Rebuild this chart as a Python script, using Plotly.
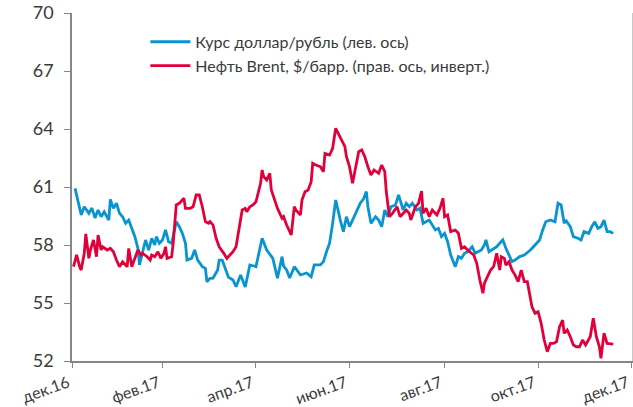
import pandas as pd
import plotly.graph_objects as go

start_date = "2016-12-31"

# USD/RUB (left axis): days since start, values
usd_days = [2, 4, 6, 8, 11, 13, 15, 17, 19, 21, 24, 25, 27, 29, 31, 33, 35, 37, 39, 41,
            43, 44, 48, 50, 52, 54, 55, 57, 59, 61, 63, 65, 68, 70, 72, 74, 75, 78, 80, 82,
            85, 87, 88, 90, 92, 95, 96, 98, 102, 105, 107, 110, 113, 116, 120, 124, 127, 131, 134, 137,
            138, 140, 142, 145, 149, 153, 156, 158, 162, 164, 166, 168, 170, 172, 175, 177, 179, 181, 183, 186,
            188, 190, 192, 193, 195, 198, 200, 202, 204, 206, 208, 211, 213, 216, 218, 220, 222, 225, 227, 229,
            233, 237, 239, 241, 243, 245, 247, 250, 252, 254, 256, 258, 261, 263, 265, 267, 269, 270, 272, 275,
            277, 279, 281, 283, 285, 287, 289, 292, 295, 299, 302, 305, 307, 309, 312, 315, 317, 319, 321, 322,
            325, 327, 330, 332, 334, 337, 339, 341, 343, 345, 347, 349, 351, 353]
usd_rub = [60.93, 60.16, 59.55, 59.98, 59.64, 59.91, 59.40, 59.81, 59.46, 59.72, 59.29, 60.36, 59.90, 60.16, 59.64, 59.46, 59.12, 59.29, 58.86, 58.43,
           57.83, 56.97, 58.26, 57.74, 58.35, 58.00, 58.43, 58.09, 58.26, 58.78, 58.17, 58.09, 59.20, 58.95, 58.60, 58.09, 57.22, 57.31, 57.74, 57.22,
           56.88, 56.79, 56.10, 56.28, 56.29, 56.71, 57.22, 57.22, 56.34, 56.19, 55.84, 56.45, 55.83, 56.97, 56.88, 58.35, 57.74, 57.31, 56.28, 57.40,
           56.91, 56.71, 56.29, 56.88, 56.45, 56.55, 56.36, 56.97, 56.97, 57.14, 57.65, 58.09, 59.12, 60.33, 59.29, 58.69, 59.46, 58.95, 59.29, 59.81,
           60.16, 60.36, 60.76, 59.98, 59.12, 59.46, 59.29, 58.95, 59.81, 59.46, 59.98, 60.07, 60.59, 59.81, 60.16, 59.98, 60.16, 59.81, 59.90, 59.12,
           59.29, 58.78, 58.86, 58.43, 58.60, 58.17, 57.48, 56.88, 57.40, 57.31, 57.57, 57.65, 57.91, 57.57, 57.65, 57.74, 58.00, 58.26, 57.65, 57.83,
           57.91, 58.09, 58.26, 57.83, 57.48, 57.14, 57.22, 57.40, 57.48, 57.74, 58.00, 58.26, 58.78, 59.20, 59.29, 59.20, 60.16, 60.07, 59.12, 59.29,
           58.95, 58.43, 58.35, 58.26, 58.69, 58.60, 58.95, 59.20, 58.86, 58.95, 59.29, 58.69, 58.69, 58.60]

# Brent, $/bbl (right axis, inverted)
brent_days = [1, 3, 5, 6, 8, 9, 11, 12, 14, 16, 17, 19, 20, 23, 25, 27, 29, 31, 33, 36,
              37, 39, 41, 43, 45, 46, 49, 51, 52, 54, 56, 58, 60, 61, 62, 65, 66, 68, 70, 73,
              74, 77, 79, 81, 83, 85, 87, 89, 90, 92, 94, 96, 99, 101, 103, 105, 107, 109, 111, 113,
              114, 116, 118, 120, 123, 124, 125, 127, 129, 130, 132, 134, 137, 138, 140, 143, 145, 146, 149, 150,
              152, 154, 156, 157, 159, 162, 164, 165, 168, 170, 172, 174, 176, 178, 179, 180, 181, 183, 185, 187,
              189, 191, 193, 195, 197, 200, 202, 204, 205, 206, 207, 209, 212, 214, 216, 218, 220, 221, 224, 226,
              228, 229, 231, 233, 235, 238, 240, 242, 243, 245, 247, 250, 252, 254, 256, 258, 262, 264, 266, 268,
              269, 271, 273, 275, 277, 279, 280, 282, 283, 285, 287, 289, 291, 293, 295, 297, 300, 302, 304, 306,
              308, 310, 312, 314, 316, 318, 320, 321, 323, 325, 327, 329, 331, 333, 335, 338, 340, 342, 344, 345,
              347, 349, 351, 353]
brent = [56.87, 55.86, 56.87, 57.16, 55.72, 54.05, 56.15, 55.43, 54.57, 56.01, 54.14, 55.43, 55.15, 55.43, 55.29, 55.58, 56.29, 56.87, 56.44, 56.87,
         55.29, 56.87, 56.15, 55.43, 55.86, 55.72, 56.01, 56.29, 55.86, 56.01, 55.58, 56.15, 55.72, 55.15, 56.15, 56.01, 54.85, 51.55, 51.41, 50.97,
         51.84, 51.84, 51.70, 50.69, 50.69, 51.70, 52.99, 53.13, 52.99, 53.28, 54.42, 55.15, 55.72, 56.15, 55.86, 55.58, 55.15, 53.42, 51.98, 51.84,
         52.13, 51.70, 51.55, 51.27, 49.68, 48.53, 49.11, 49.40, 48.82, 50.26, 50.97, 51.84, 52.70, 52.56, 53.28, 54.14, 51.70, 51.98, 52.41, 51.12,
         50.41, 50.26, 49.54, 47.96, 48.10, 48.25, 48.68, 47.10, 47.24, 46.66, 44.94, 45.52, 45.95, 46.53, 47.39, 47.96, 48.25, 49.68, 48.39, 46.96,
         46.81, 47.39, 48.25, 48.97, 48.53, 48.82, 48.10, 48.68, 50.41, 51.41, 52.56, 52.27, 51.70, 52.56, 52.27, 51.98, 52.27, 52.85, 51.70, 51.41,
         50.35, 52.27, 51.84, 52.56, 51.98, 52.41, 51.84, 50.97, 52.56, 52.41, 53.85, 53.71, 53.99, 55.29, 55.15, 55.43, 55.86, 56.58, 58.02, 59.16,
         58.30, 57.73, 57.16, 56.87, 55.72, 57.16, 56.01, 56.15, 56.73, 56.44, 57.16, 57.59, 58.16, 57.16, 58.16, 58.16, 60.32, 60.89, 60.75, 61.75,
         63.19, 64.20, 63.48, 63.48, 63.34, 62.04, 61.47, 62.61, 62.33, 62.91, 63.62, 63.77, 63.77, 63.19, 63.62, 62.91, 61.32, 62.91, 63.77, 64.77,
         62.61, 63.48, 63.48, 63.54]

tick_dates = ["2016-12-31", "2017-02-28", "2017-04-30", "2017-06-30", "2017-08-31", "2017-10-31", "2017-12-31"]
tick_labels = ["дек.16", "фев.17", "апр.17", "июн.17", "авг.17", "окт.17", "дек.17"]

base = pd.Timestamp(start_date)
usd_x = [base + pd.Timedelta(days=d) for d in usd_days]
brent_x = [base + pd.Timedelta(days=d) for d in brent_days]

BLUE = "#0893D1"
RED = "#E2003B"
AXIS = "#868686"
TXT = "#3A3A3A"
FONT = "Lato, 'Open Sans', sans-serif"

fig = go.Figure()
fig.add_trace(go.Scatter(x=usd_x, y=usd_rub, mode="lines", name="Курс доллар/рубль (лев. ось)",
                         line=dict(color=BLUE, width=2.8), yaxis="y"))
fig.add_trace(go.Scatter(x=brent_x, y=brent, mode="lines", name="Нефть Brent, $/барр. (прав. ось, инверт.)",
                         line=dict(color=RED, width=2.8), yaxis="y2"))

fig.update_layout(
    width=633, height=407,
    margin=dict(l=72, r=1, t=13, b=46, autoexpand=False),
    paper_bgcolor="white", plot_bgcolor="white",
    font=dict(family=FONT, color=TXT),
    showlegend=True,
    legend=dict(x=0.131, y=0.966, xanchor="left", yanchor="top", bgcolor="rgba(0,0,0,0)",
                font=dict(size=16, color=TXT), tracegroupgap=0, itemwidth=40),
    xaxis=dict(type="date", range=["2016-12-31", "2017-12-31 06:00"], tickvals=tick_dates, ticktext=tick_labels,
               tickangle=-20, ticks="outside", ticklen=5, tickcolor=AXIS, showline=True, linecolor=AXIS,
               linewidth=1.5, showgrid=False, zeroline=False, automargin=False, ticklabeloverflow="allow",
               ticklabelshift=-4, tickfont=dict(size=16, color=TXT)),
    yaxis=dict(range=[52, 70], tickvals=[52, 55, 58, 61, 64, 67, 70], ticks="outside", ticklen=6,
               tickcolor=AXIS, showline=True, linecolor=AXIS, linewidth=1.5, showgrid=False, zeroline=False,
               automargin=False, ticklabelstandoff=7, tickfont=dict(size=18, color=TXT)),
    yaxis2=dict(range=[65, 35], overlaying="y", side="right", showline=True, linecolor="#C8C8C8",
                linewidth=1, showticklabels=False, ticks="", showgrid=False, zeroline=False, automargin=False),
)

fig.write_html("out.html", config={"displayModeBar": False},
               post_script="document.body.style.margin='0';document.body.style.overflow='hidden';")
